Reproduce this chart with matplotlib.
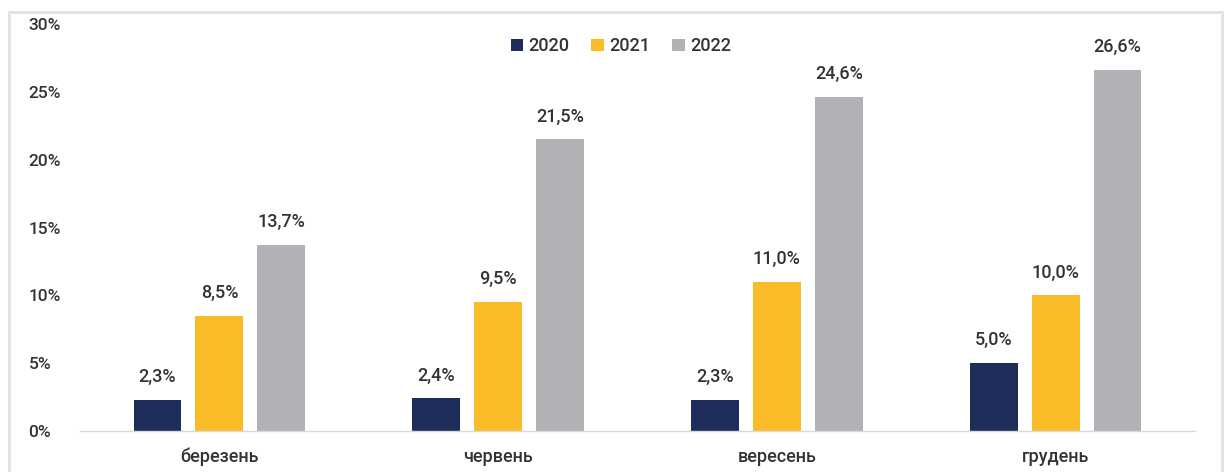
import matplotlib
matplotlib.use("Agg")
import matplotlib.pyplot as plt
import numpy as np
from matplotlib.patches import Rectangle

plt.rcParams['font.family'] = ['Roboto', 'DejaVu Sans']
plt.rcParams['font.weight'] = 'medium'

categories = ["березень", "червень", "вересень", "грудень"]
series_names = ["2020", "2021", "2022"]
v2020 = [2.3, 2.4, 2.3, 5.0]
v2021 = [8.5, 9.5, 11.0, 10.0]
v2022 = [13.7, 21.5, 24.6, 26.6]
yticks = [0, 5, 10, 15, 20, 25, 30]
colors = ["#1f2d5a", "#fbbc2a", "#b1b2b6"]
text_color = "#333333"

fig = plt.figure(figsize=(12.24, 4.72), dpi=100)
fig.patches.append(Rectangle((9/1224, -0.1), (1222-9)/1224, 1.1 - 12/472,
                             transform=fig.transFigure, fill=False,
                             edgecolor="#e2e2e2", linewidth=2.0, zorder=0))
ax = fig.add_axes([80/1224, 41/472, (1195-80)/1224, (431-24)/472])

x = np.arange(len(categories))
width = 0.172
step = 0.222
for i, (name, vals) in enumerate(zip(series_names, [v2020, v2021, v2022])):
    pos = x + (i - 1) * step
    bars = ax.bar(pos, vals, width, color=colors[i], label=name, zorder=2)
    for b, v in zip(bars, vals):
        ax.annotate(f"{v:.1f}%".replace(".", ","),
                    (b.get_x() + b.get_width() / 2, v),
                    xytext=(0, 10), textcoords="offset points",
                    ha="center", va="bottom", fontsize=13, color=text_color)

ax.set_xlim(-0.5, len(categories) - 0.5)
ax.set_ylim(0, 30)
ax.set_yticks(yticks)
ax.set_yticklabels([f"{t}%" for t in yticks], fontsize=12.5, color=text_color)
ax.set_xticks(x)
ax.set_xticklabels(categories, fontsize=13, color=text_color)
for s in ["top", "right", "left"]:
    ax.spines[s].set_visible(False)
ax.spines["bottom"].set_color("#d9d9d9")
ax.spines["bottom"].set_linewidth(1.0)
ax.tick_params(axis="both", length=0)
ax.tick_params(axis="x", pad=12)
for lab in ax.get_yticklabels():
    lab.set_horizontalalignment("left")
ax.tick_params(axis="y", pad=37)

leg = ax.legend(loc="upper center", bbox_to_anchor=(0.485, 0.985), ncol=3,
                frameon=False, fontsize=13, handlelength=0.7, handleheight=0.7,
                handletextpad=0.3, columnspacing=1.2, borderaxespad=0)
for t in leg.get_texts():
    t.set_color(text_color)

fig.savefig("out.png", dpi=100)
